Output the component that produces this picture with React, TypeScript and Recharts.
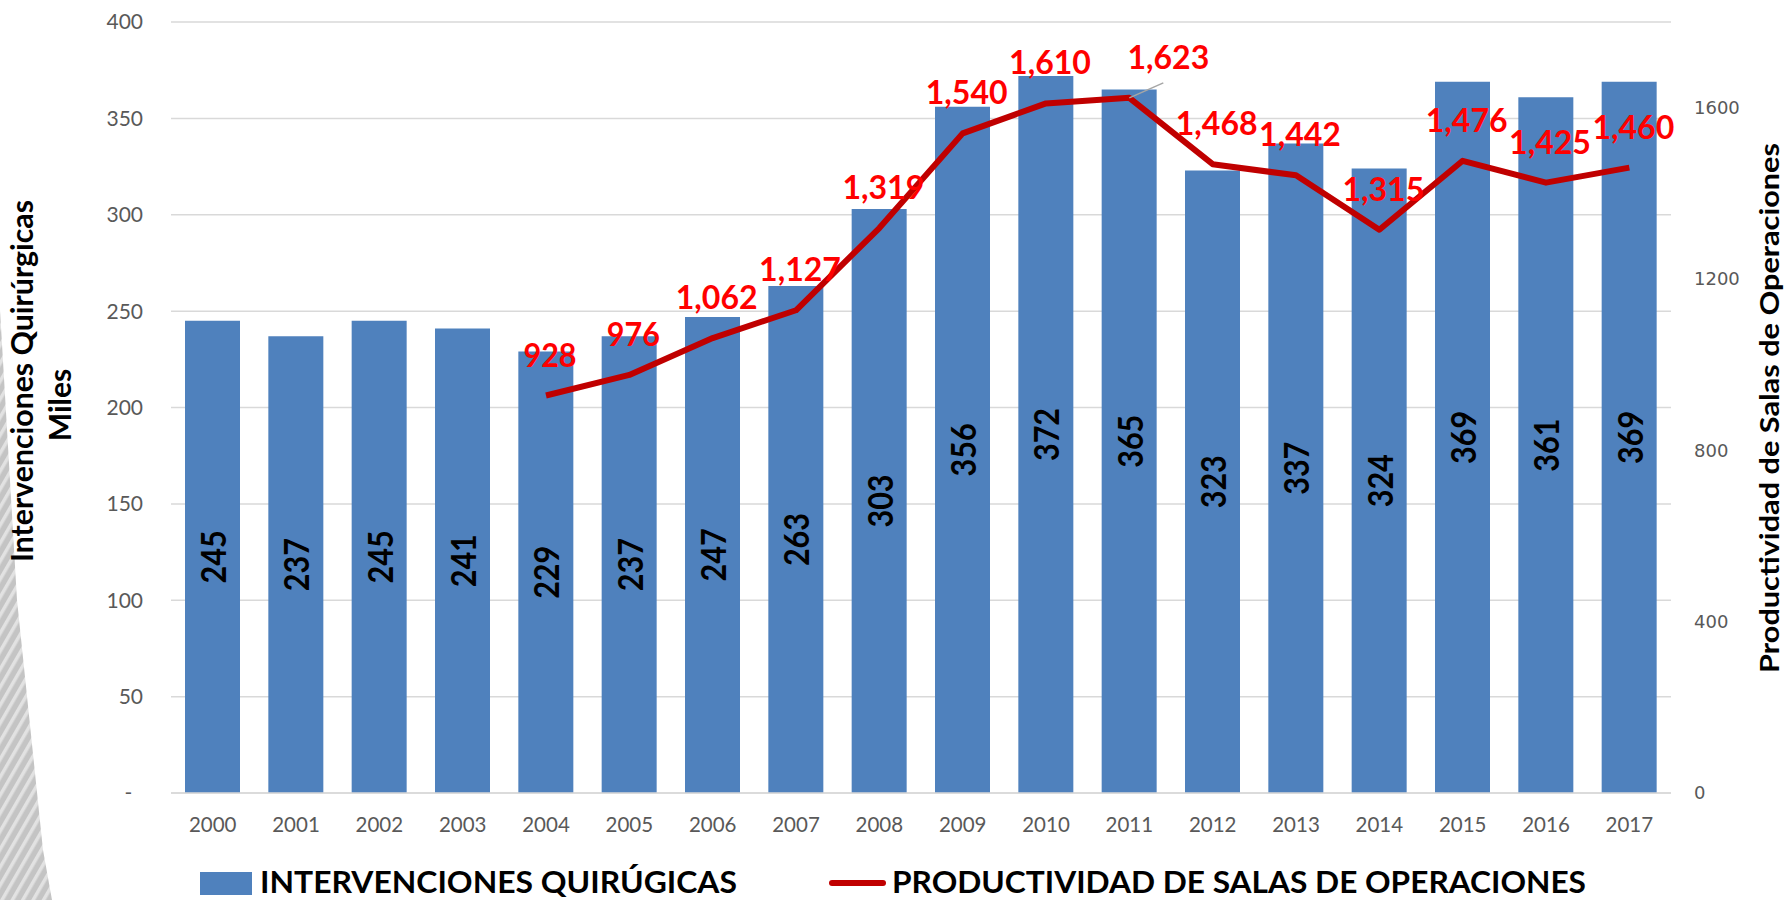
import React from 'react';
import { ComposedChart, Bar, Line, XAxis, YAxis, CartesianGrid, LabelList, Legend } from 'recharts';

const years = ['2000', '2001', '2002', '2003', '2004', '2005', '2006', '2007', '2008', '2009', '2010', '2011', '2012', '2013', '2014', '2015', '2016', '2017'];
const intervenciones = [245, 237, 245, 241, 229, 237, 247, 263, 303, 356, 372, 365, 323, 337, 324, 369, 361, 369];
const productividad: (number | null)[] = [null, null, null, null, 928, 976, 1062, 1127, 1319, 1540, 1610, 1623, 1468, 1442, 1315, 1476, 1425, 1460];
const leftTicks = [0, 50, 100, 150, 200, 250, 300, 350, 400];
const rightTicks = [0, 400, 800, 1200, 1600];

const seriesBarName = 'INTERVENCIONES QUIRÚGICAS';
const seriesLineName = 'PRODUCTIVIDAD DE SALAS DE OPERACIONES';
const leftTitle1 = 'Intervenciones Quirúrgicas';
const leftTitle2 = 'Miles';
const rightTitle = 'Productividad de Salas de Operaciones';

const data = years.map((y, i) => ({ year: y, iq: intervenciones[i], prod: productividad[i] }));

const BLUE = '#4F81BD';
const DARKRED = '#C00000';
const FONT = 'Lato, "Open Sans", sans-serif';

const textLen = (s: string) => {
  let w = 0;
  for (const ch of s) w += ch === ',' ? 11 : 17.7;
  return w;
};

const BarLabel = (props: any) => {
  const { x, y, width, height, value } = props;
  const cx = Number(x) + Number(width) / 2;
  const cy = Number(y) + Number(height) / 2;
  const s = String(value);
  return (
    <text
      x={cx}
      y={cy}
      transform={`rotate(-90 ${cx} ${cy})`}
      textAnchor="middle"
      dominantBaseline="central"
      fontFamily={FONT}
      fontWeight={700}
      fontSize={34}
      fill="#000"
      textLength={textLen(s)}
      lengthAdjust="spacingAndGlyphs"
    >
      {s}
    </text>
  );
};

const LineLabel = (props: any) => {
  const { x, y, value, index } = props;
  if (value == null) return null;
  const px = Number(x);
  const py = Number(y);
  const special = index === 11;
  const lx = px + (special ? 39 : 4);
  const ly = py - 29;
  const s = Number(value).toLocaleString('en-US');
  return (
    <g>
      {special && <line x1={px} y1={py} x2={px + 34} y2={py - 15} stroke="#A6A6A6" strokeWidth={1.5} />}
      <text
        x={lx}
        y={ly}
        textAnchor="middle"
        fontFamily={FONT}
        fontWeight={700}
        fontSize={33}
        fill="#FF0000"
        textLength={textLen(s)}
        lengthAdjust="spacingAndGlyphs"
      >
        {s}
      </text>
    </g>
  );
};

const LeftTitle = () => (
  <g>
    <text
      transform="translate(33,381) rotate(-90)"
      textAnchor="middle"
      fontFamily={FONT}
      fontWeight={700}
      fontSize={30}
      fill="#000"
      textLength={362}
      lengthAdjust="spacingAndGlyphs"
    >
      {leftTitle1}
    </text>
    <text transform="translate(71,405) rotate(-90)" textAnchor="middle" fontFamily={FONT} fontWeight={700} fontSize={30} fill="#000">
      {leftTitle2}
    </text>
  </g>
);

const RightTitle = () => (
  <text
    transform="translate(1779,408) rotate(-90)"
    textAnchor="middle"
    fontFamily={FONT}
    fontWeight={700}
    fontSize={27}
    fill="#000"
    textLength={530}
    lengthAdjust="spacingAndGlyphs"
  >
    {rightTitle}
  </text>
);

const LegendContent = () => (
  <svg width={1789} height={52} style={{ display: 'block' }}>
    <rect x={200} y={24} width={52} height={23} fill={BLUE} />
    <text x={260} y={45} fontFamily={FONT} fontWeight={700} fontSize={31} fill="#000" textLength={477} lengthAdjust="spacingAndGlyphs">
      {seriesBarName}
    </text>
    <line x1={832} y1={35} x2={883} y2={35} stroke={DARKRED} strokeWidth={6} strokeLinecap="round" />
    <text x={892} y={45} fontFamily={FONT} fontWeight={700} fontSize={31} fill="#000" textLength={694} lengthAdjust="spacingAndGlyphs">
      {seriesLineName}
    </text>
  </svg>
);

export default function App() {
  return (
    <div style={{ position: 'absolute', left: 0, top: 0, width: 1789, height: 900, background: '#fff' }}>
      <svg width={1789} height={900} style={{ position: 'absolute', left: 0, top: 0 }}>
        <defs>
          <pattern id="stripes" width="9" height="9" patternUnits="userSpaceOnUse" patternTransform="rotate(30)">
            <rect width="9" height="9" fill="#c4c4c4" />
            <rect width="3.5" height="9" fill="#e2e2e2" />
          </pattern>
        </defs>
        <polygon points="0,310 17,600 43,850 52,900 0,900" fill="url(#stripes)" />
      </svg>
      <div style={{ position: 'absolute', left: 0, top: 0 }}>
        <ComposedChart width={1789} height={900} data={data} margin={{ top: 22, right: 0, bottom: 0, left: 0 }}>
          <CartesianGrid yAxisId="left" vertical={false} stroke="#D9D9D9" strokeWidth={1.5} />
          <XAxis
            dataKey="year"
            height={55}
            tickLine={false}
            axisLine={{ stroke: '#D9D9D9', strokeWidth: 1.5 }}
            tickMargin={18}
            tick={{ fontFamily: FONT, fontSize: 20.5, fill: '#595959' }}
            interval={0}
          />
          <YAxis
            yAxisId="left"
            orientation="left"
            width={171}
            domain={[0, 400]}
            ticks={leftTicks}
            tickLine={false}
            axisLine={false}
            tickMargin={22}
            tick={{ fontFamily: FONT, fontSize: 21, fill: '#595959' }}
            tickFormatter={(v: number) => (v === 0 ? '-\u00A0\u00A0' : String(v))}
            label={LeftTitle}
          />
          <YAxis
            yAxisId="right"
            orientation="right"
            width={118}
            domain={[0, 1800]}
            ticks={rightTicks}
            tickLine={false}
            axisLine={false}
            tickMargin={17}
            tick={{ fontFamily: '"DejaVu Sans", sans-serif', fontSize: 18, fill: '#595959' }}
            label={RightTitle}
          />
          <Legend verticalAlign="bottom" align="left" height={52} content={LegendContent} />
          <Bar yAxisId="left" dataKey="iq" name={seriesBarName} fill={BLUE} barSize={55} isAnimationActive={false}>
            <LabelList dataKey="iq" content={BarLabel} />
          </Bar>
          <Line
            yAxisId="right"
            dataKey="prod"
            name={seriesLineName}
            stroke={DARKRED}
            strokeWidth={6}
            strokeLinejoin="round"
            dot={false}
            activeDot={false}
            isAnimationActive={false}
          >
            <LabelList dataKey="prod" content={LineLabel} />
          </Line>
        </ComposedChart>
      </div>
    </div>
  );
}
